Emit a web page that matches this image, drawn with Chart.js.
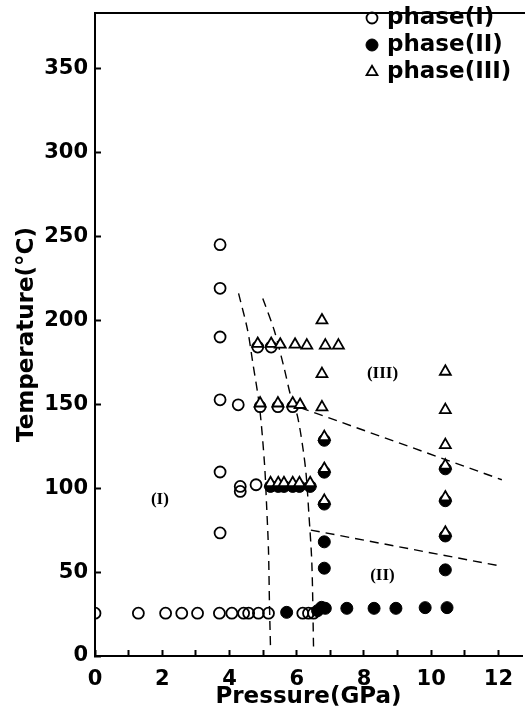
<!DOCTYPE html>
<html>
<head>
<meta charset="utf-8">
<script src="https://cdn.jsdelivr.net/npm/chart.js@4"></script>
<style>
  html, body { margin: 0; padding: 0; background: #fff; }
  #wrap { width: 525px; height: 713px; }
</style>
</head>
<body>
<div id="wrap"><canvas id="phaseChart" width="525" height="713"></canvas></div>
<script>
// phase (I) - open circles
const phaseIP = [0, 1.29, 2.10, 2.58, 3.05, 3.70, 4.07, 4.42, 4.57, 4.86, 5.16, 6.18, 6.35, 6.50,
  3.72, 3.72, 3.72, 3.72, 3.72, 3.72,
  4.26, 4.32, 4.32, 4.79,
  4.84, 5.24,
  4.91, 5.44, 5.88];
const phaseIT = [25.5, 25.5, 25.5, 25.5, 25.5, 25.5, 25.5, 25.5, 25.5, 25.5, 25.5, 25.5, 25.5, 25.5,
  245, 219, 190, 152.6, 109.6, 73.3,
  149.6, 101, 98, 102,
  184, 184,
  148.5, 148.5, 148.5];

// phase (II) - filled circles
const phaseIIP = [5.70, 6.62, 6.74, 6.85, 7.49, 8.30, 8.95, 9.82, 10.47,
  6.82, 6.82, 6.82, 6.82, 6.82,
  10.42, 10.42, 10.42, 10.42,
  5.22, 5.45, 5.62, 5.88, 6.08, 6.40];
const phaseIIT = [26, 27, 29, 28.4, 28.4, 28.4, 28.4, 28.8, 28.8,
  128.5, 109.5, 90.5, 68, 52.3,
  111.5, 92.5, 71.5, 51.3,
  101, 101, 101, 101, 101, 101];

// phase (III) - triangles
const phaseIIIP = [4.84, 5.24, 5.51, 5.95, 6.30, 6.85, 7.24,
  6.75, 6.75, 6.75,
  10.42, 10.42, 10.42,
  4.91, 5.44, 5.88, 6.10,
  6.82, 6.82, 6.82, 10.42, 10.42, 10.42,
  5.22, 5.45, 5.62, 5.88, 6.08, 6.40];
const phaseIIIT = [186, 186, 185.5, 185.5, 185, 185, 185,
  200, 168, 148.2,
  169.4, 146.6, 125.7,
  150.5, 150.5, 150.5, 149.6,
  130.5, 111.5, 92.5, 113.5, 94.5, 73.5,
  103, 103, 103, 103, 103, 103];

// dashed phase boundaries
const boundA_P = [4.27, 4.54, 4.69, 4.89, 5.04, 5.11, 5.16, 5.19, 5.22];
const boundA_T = [216, 194, 175, 149, 115, 87, 63, 30, 5];
const boundB_P = [4.99, 5.33, 5.62, 5.82, 6.02, 6.19, 6.28, 6.36, 6.45, 6.50];
const boundB_T = [213, 194, 172, 155, 143, 123, 108, 85, 55, 5];
const boundC_P = [6.10, 12.10];
const boundC_T = [148, 105];
const boundD_P = [6.42, 11.95];
const boundD_T = [75, 54];

const xTicks = [0, 1, 2, 3, 4, 5, 6, 7, 8, 9, 10, 11, 12];
const yTicks = [0, 50, 100, 150, 200, 250, 300, 350];
const regionNames = ['(I)', '(II)', '(III)'];

function pts(xs, ys) {
  return xs.map((v, i) => ({ x: v, y: ys[i] }));
}

function boundary(xs, ys, tension) {
  return {
    label: 'boundary',
    data: pts(xs, ys),
    showLine: true,
    borderColor: '#000',
    borderWidth: 1.4,
    borderDash: [9, 6],
    pointRadius: 0,
    tension: tension,
    order: 3
  };
}

// legend, region names and the top frame line
const decor = {
  id: 'decor',
  afterDatasetsDraw(chart) {
    const { ctx, chartArea, scales } = chart;
    const x = scales.x, y = scales.y;
    ctx.save();
    ctx.strokeStyle = '#000';
    ctx.lineWidth = 2;
    ctx.beginPath();
    ctx.moveTo(chartArea.left - 1, chartArea.top);
    ctx.lineTo(chart.width, chartArea.top);
    ctx.stroke();

    ctx.fillStyle = '#000';
    ctx.textAlign = 'center';
    ctx.textBaseline = 'middle';
    ctx.font = 'bold 17px "Liberation Serif"';
    const spots = [[1.93, 93], [8.55, 48], [8.55, 168.5]];
    regionNames.forEach((t, i) => {
      ctx.fillText(t, x.getPixelForValue(spots[i][0]), y.getPixelForValue(spots[i][1]));
    });

    const items = chart.data.datasets.filter(d => d.label.startsWith('phase'));
    ctx.textAlign = 'left';
    ctx.font = 'bold 23px "DejaVu Sans"';
    items.forEach((d, i) => {
      const cy = 18 + i * 27;
      ctx.fillStyle = d.backgroundColor;
      ctx.strokeStyle = d.borderColor;
      ctx.lineWidth = d.borderWidth;
      Chart.helpers.drawPoint(ctx, { pointStyle: d.pointStyle, radius: d.pointRadius, rotation: 0, borderWidth: d.borderWidth }, 372, cy);
      ctx.fillStyle = '#000';
      ctx.fillText(d.label, 387, cy);
    });
    ctx.restore();
  }
};

const ctx = document.getElementById('phaseChart').getContext('2d');
new Chart(ctx, {
  type: 'scatter',
  data: {
    datasets: [
      {
        label: 'phase(I)',
        data: pts(phaseIP, phaseIT),
        pointStyle: 'circle',
        pointRadius: 5.5,
        borderWidth: 1.8,
        borderColor: '#000',
        backgroundColor: 'rgba(0,0,0,0)',
        order: 2
      },
      {
        label: 'phase(II)',
        data: pts(phaseIIP, phaseIIT),
        pointStyle: 'circle',
        pointRadius: 6,
        borderWidth: 1,
        borderColor: '#000',
        backgroundColor: '#000',
        order: 1
      },
      {
        label: 'phase(III)',
        data: pts(phaseIIIP, phaseIIIT),
        pointStyle: 'triangle',
        pointRadius: 6.3,
        borderWidth: 1.8,
        borderColor: '#000',
        backgroundColor: '#fff',
        order: 0
      },
      boundary(boundA_P, boundA_T, 0.3),
      boundary(boundB_P, boundB_T, 0.3),
      boundary(boundC_P, boundC_T, 0),
      boundary(boundD_P, boundD_T, 0)
    ]
  },
  options: {
    responsive: false,
    animation: false,
    layout: { autoPadding: false, padding: { top: 13, right: 3, left: 0, bottom: 0 } },
    plugins: {
      legend: { display: false },
      tooltip: { enabled: false }
    },
    scales: {
      x: {
        type: 'linear',
        min: 0,
        max: 12.7,
        afterBuildTicks: axis => { axis.ticks = xTicks.map(v => ({ value: v })); },
        afterFit: s => { s.height = 57; s.paddingLeft = 0; s.paddingRight = 0; },
        border: { display: true, color: '#000', width: 2 },
        grid: { display: true, drawOnChartArea: false, drawTicks: true, tickLength: -6, tickWidth: 2, tickColor: '#000' },
        ticks: {
          autoSkip: false,
          maxRotation: 0,
          padding: 17,
          color: '#000',
          font: { family: 'DejaVu Sans', size: 21, weight: 'bold' },
          callback: v => (v % 2 === 0 ? v : '')
        },
        title: {
          display: true,
          text: 'Pressure(GPa)',
          color: '#000',
          padding: { top: 0, bottom: 2 },
          font: { family: 'DejaVu Sans', size: 23, weight: 'bold' }
        }
      },
      y: {
        type: 'linear',
        min: 0,
        max: 383,
        afterBuildTicks: axis => { axis.ticks = yTicks.map(v => ({ value: v })); },
        afterFit: s => { s.width = 95; s.paddingTop = 0; s.paddingBottom = 0; },
        border: { display: true, color: '#000', width: 2 },
        grid: { display: true, drawOnChartArea: false, drawTicks: true, tickLength: -6, tickWidth: 2, tickColor: '#000' },
        ticks: {
          padding: 13,
          color: '#000',
          font: { family: 'DejaVu Sans', size: 21, weight: 'bold' }
        },
        title: {
          display: true,
          text: 'Temperature(°C)',
          color: '#000',
          padding: { top: 13, bottom: 0 },
          font: { family: 'DejaVu Sans', size: 23, weight: 'bold' }
        }
      }
    }
  },
  plugins: [decor]
});
</script>
</body>
</html>
